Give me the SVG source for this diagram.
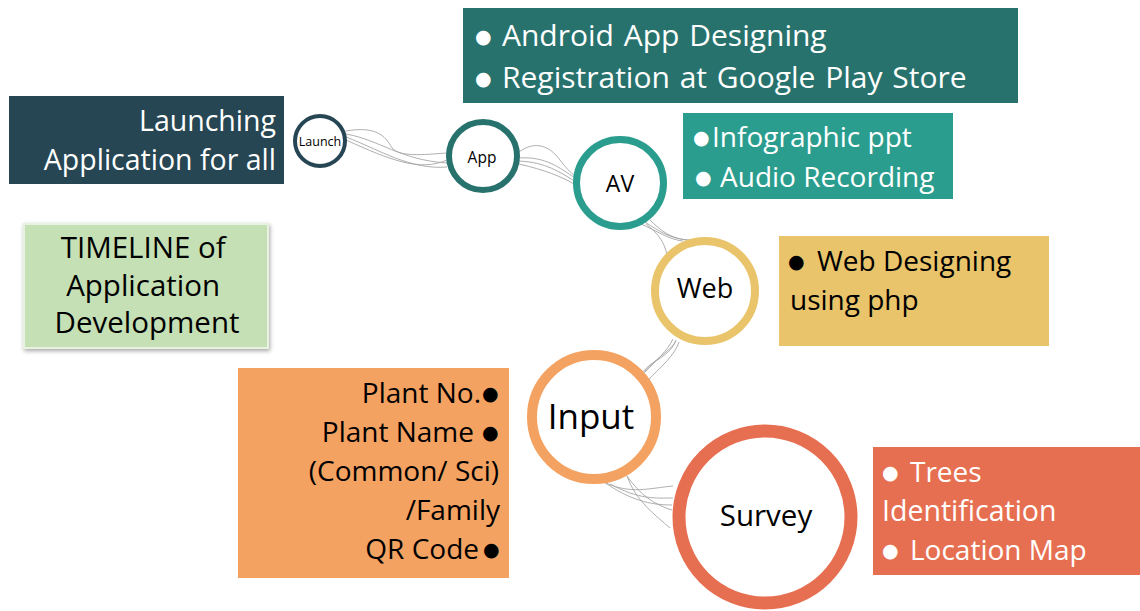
<svg xmlns="http://www.w3.org/2000/svg" width="1140" height="611" viewBox="0 0 1140 611">
<style>
text{font-family:"Open Sans","Liberation Sans",sans-serif}
.w{fill:#fff}
.k{fill:#000}
.b{font-family:"DejaVu Sans",sans-serif;font-size:19px}
.con path{fill:none;stroke:#a6a6a6;stroke-width:0.9}
.ring{fill:#fff}
.e{text-anchor:end;font-size:28px}
</style>
<defs>
<filter id="sh" x="-10%" y="-10%" width="125%" height="130%">
<feDropShadow dx="1" dy="2" stdDeviation="2" flood-color="#000" flood-opacity="0.35"/>
</filter>
</defs>
<rect width="1140" height="611" fill="#fff"/>

<g id="connectors" class="con">
<path d="M346,131 C375,126 385,135 392,148 C400,158 430,154 447,153"/>
<path d="M346,134 C380,140 400,160 447,163"/>
<path d="M346,137 C380,150 410,170 447,167"/>
<path d="M346,140 C390,160 420,172 447,160"/>
<path d="M519,152 C535,140 550,146 560,160 C566,168 570,172 575,176"/>
<path d="M519,158 C545,156 560,168 575,178"/>
<path d="M519,161 C545,162 560,172 576,182"/>
<path d="M519,164 C545,170 560,176 576,185"/>
<path d="M641,224 C655,230 670,240 683,241"/>
<path d="M645,222 C660,232 670,238 687,240"/>
<path d="M650,220 C660,230 672,240 690,240"/>
<path d="M646,224 C660,235 664,243 667,254"/>
<path d="M676,340 C672,352 660,358 650,365 C646,368 643,372 641,373"/>
<path d="M673,339 C668,350 655,362 645,372"/>
<path d="M679,342 C675,355 660,368 648,380"/>
<path d="M676,341 C670,352 650,362 643,374"/>
<path d="M604,482 C630,495 650,488 673,486"/>
<path d="M604,482 C630,500 650,505 672,505"/>
<path d="M627,476 C635,500 655,515 670,528"/>
<path d="M610,484 C640,500 655,498 673,498"/>
<path d="M627,476 C640,495 655,505 672,510"/>
</g>

<g id="box-app">
<rect x="463" y="8" width="555" height="95" fill="#28726D"/>
<text class="w" x="475" y="46" font-size="30" word-spacing="2"><tspan class="b" dy="-3">●</tspan><tspan x="502" dy="3">Android App Designing</tspan></text>
<text class="w" x="475" y="88" font-size="30" word-spacing="2"><tspan class="b" dy="-3">●</tspan><tspan x="502" dy="3">Registration at Google Play Store</tspan></text>
</g>

<g id="box-launch">
<rect x="9" y="96" width="275" height="88" fill="#264653"/>
<text class="w" x="276" y="131" font-size="28.5" text-anchor="end">Launching</text>
<text class="w" x="276" y="170" font-size="28.5" text-anchor="end">Application for all</text>
</g>

<g id="box-av">
<rect x="683" y="113" width="270" height="86" fill="#2A9D8F"/>
<text class="w" x="693" y="147" font-size="28"><tspan class="b" dy="-3">●</tspan><tspan x="712" dy="3">Infographic ppt</tspan></text>
<text class="w" x="695" y="187" font-size="28"><tspan class="b" dy="-3">●</tspan><tspan x="720" dy="3">Audio Recording</tspan></text>
</g>

<g id="box-web">
<rect x="779" y="236" width="270" height="110" fill="#E9C46A"/>
<text class="k" x="788" y="271" font-size="28"><tspan class="b" dy="-3">●</tspan><tspan x="817" dy="3">Web Designing</tspan></text>
<text class="k" x="790" y="310" font-size="28">using php</text>
</g>

<g id="box-input">
<rect x="238" y="368" width="271" height="210" fill="#F4A261"/>
<text class="k e" x="481" y="403">Plant No.</text>
<text class="k e" x="474" y="442">Plant Name</text>
<text class="k e" x="499" y="481">(Common/ Sci)</text>
<text class="k e" x="500" y="520">/Family</text>
<text class="k e" x="479" y="559">QR Code</text>
<text class="k b" x="482" y="400">●</text>
<text class="k b" x="482" y="439">●</text>
<text class="k b" x="483" y="556">●</text>
</g>

<g id="box-survey">
<rect x="873" y="447" width="267" height="128" fill="#E76F51"/>
<text class="w" x="882" y="482" font-size="28"><tspan class="b" dy="-3">●</tspan><tspan x="910" dy="3">Trees</tspan></text>
<text class="w" x="882" y="521" font-size="28.5">Identification</text>
<text class="w" x="882" y="560" font-size="28"><tspan class="b" dy="-3">●</tspan><tspan x="910" dy="3">Location Map</tspan></text>
</g>

<g id="box-title">
<rect x="24" y="224" width="244" height="124" fill="#C5E0B4" stroke="#e8f2e1" stroke-width="2" filter="url(#sh)"/>
<text class="k" font-size="29.5" text-anchor="middle">
<tspan x="147" y="258">TIMELINE of</tspan>
<tspan x="147" y="296">Application</tspan>
<tspan x="147" y="333">Development</tspan>
</text>
</g>

<g id="node-launch">
<circle class="ring" cx="320" cy="141" r="25" stroke="#264653" stroke-width="4"/>
<text class="k" x="320" y="146" font-size="12.5" text-anchor="middle">Launch</text>
</g>
<g id="node-app">
<circle class="ring" cx="483" cy="156" r="34" stroke="#28726D" stroke-width="6"/>
<text class="k" x="482" y="163" font-size="15.5" text-anchor="middle">App</text>
</g>
<g id="node-av">
<circle class="ring" cx="620" cy="183" r="43.5" stroke="#2A9D8F" stroke-width="7"/>
<text class="k" x="620" y="192" font-size="23" text-anchor="middle">AV</text>
</g>
<g id="node-web">
<circle class="ring" cx="705" cy="291" r="50" stroke="#E9C46A" stroke-width="8"/>
<text class="k" x="705" y="298" font-size="27" text-anchor="middle">Web</text>
</g>
<g id="node-input">
<circle class="ring" cx="594" cy="417" r="62" stroke="#F4A261" stroke-width="10"/>
<text class="k" x="591" y="429" font-size="35" text-anchor="middle">Input</text>
</g>
<g id="node-survey">
<circle class="ring" cx="765" cy="517" r="86" stroke="#E76F51" stroke-width="13"/>
<text class="k" x="766" y="526" font-size="29.5" text-anchor="middle">Survey</text>
</g>
</svg>
